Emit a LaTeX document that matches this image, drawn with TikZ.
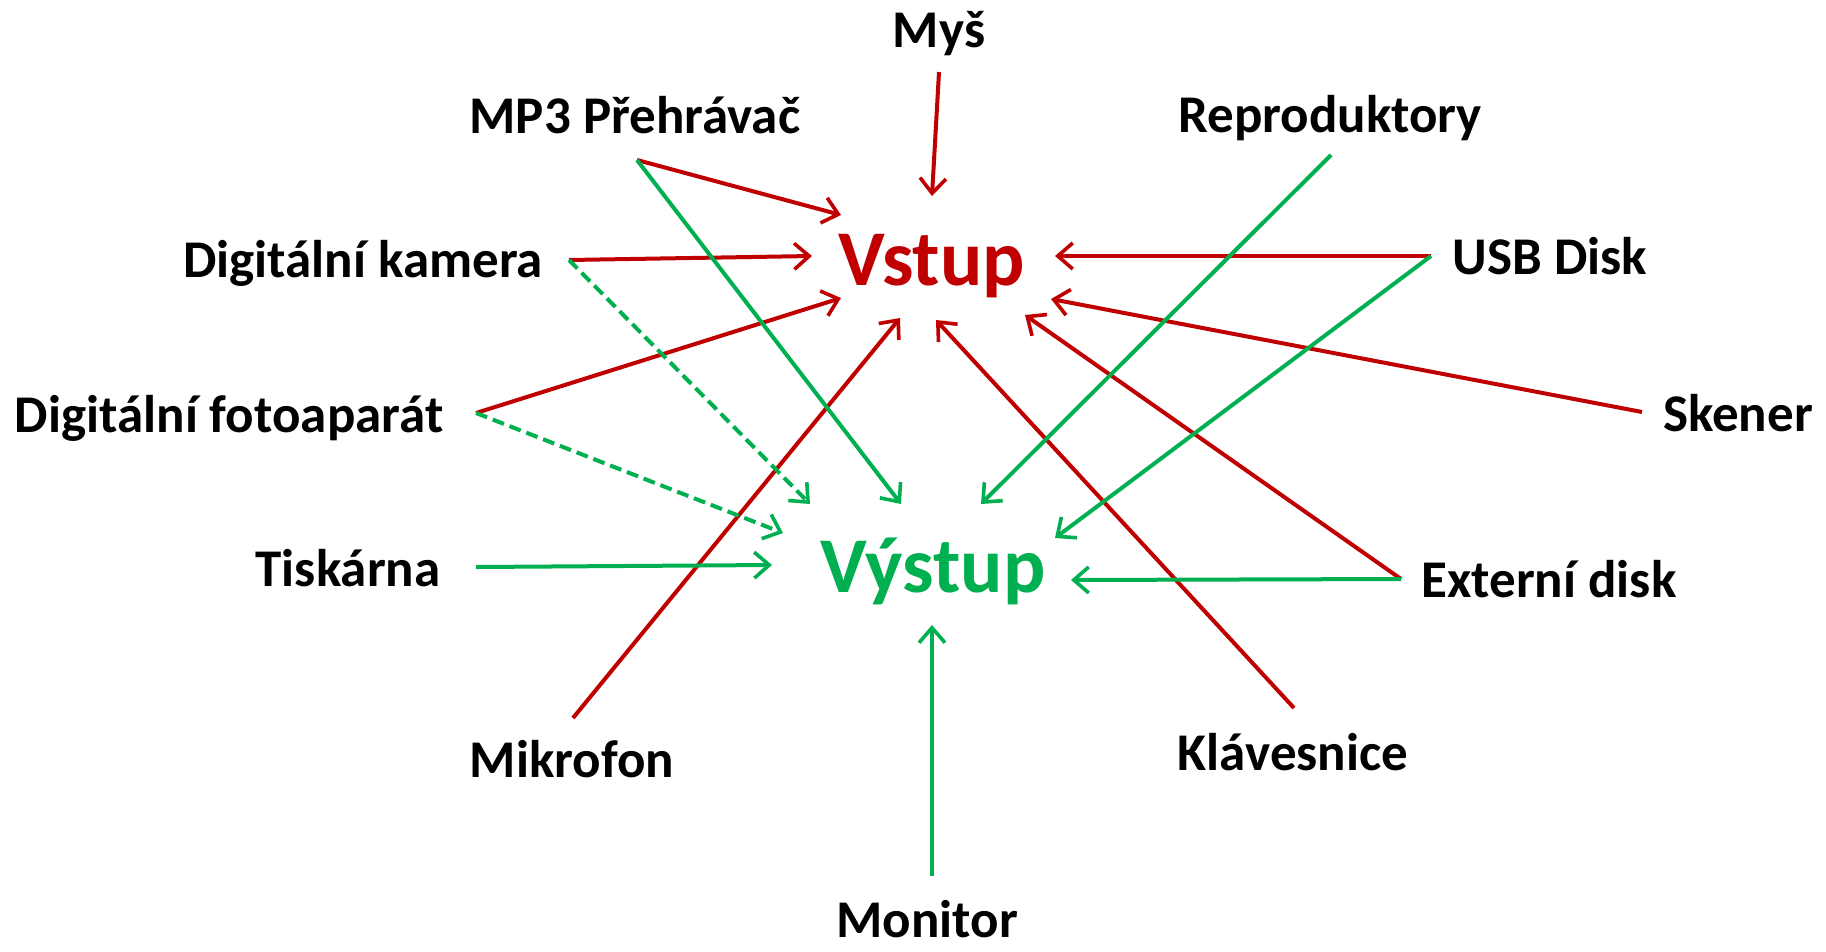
\documentclass[tikz,border=0pt]{standalone}
\usepackage{fontspec}
\setmainfont{Carlito}
\usetikzlibrary{arrows.meta}
\definecolor{cred}{HTML}{C00000}
\definecolor{cgreen}{HTML}{00B050}
\begin{document}
\begin{tikzpicture}[x=1pt,y=-1pt,
  lab/.style={font=\fontsize{53}{64}\selectfont\bfseries, anchor=base, inner sep=0pt},
  big/.style={font=\fontsize{79}{95}\selectfont\bfseries, anchor=base, inner sep=0pt},
  arr/.style={line width=4pt, -{Straight Barb[length=15pt,width=26pt,line width=3.6pt]}},
  ra/.style={arr, draw=cred},
  ga/.style={arr, draw=cgreen},
  gd/.style={arr, draw=cgreen, dash pattern=on 12pt off 6pt}]
\fill[white] (0,0) rectangle (1826,951);
\useasboundingbox (0,0) rectangle (1826,951);
% labels
\node[lab] (mys) at (939,47) {Myš};
\node[lab] (mp3) at (635,133) {MP3 Přehrávač};
\node[lab] (rep) at (1330,132) {Reproduktory};
\node[lab] (kam) at (363,277) {Digitální kamera};
\node[lab] (usb) at (1550,274) {USB Disk};
\node[lab] (foto) at (229,432) {Digitální fotoaparát};
\node[lab] (sken) at (1738,431) {Skener};
\node[lab] (tisk) at (348,586) {Tiskárna};
\node[lab] (ext) at (1549,597) {Externí disk};
\node[lab] (mik) at (572,777) {Mikrofon};
\node[lab] (klav) at (1293,770) {Klávesnice};
\node[lab] (mon) at (927,937) {Monitor};
\node[big, text=cred] (vstup) at (932,285) {Vstup};
\node[big, text=cgreen] (vystup) at (933,592) {Výstup};
% connector end points
\coordinate (mysS) at (939,72);   \coordinate (mysE) at (932,196);
\coordinate (mp3S) at (637,160);
\coordinate (kamS) at (569,260);
\coordinate (fotoS) at (476,413);
\coordinate (mikS) at (573,718);
\coordinate (klavS) at (1294,708);
\coordinate (extS) at (1401,579);
\coordinate (skenS) at (1642,412);
\coordinate (usbS) at (1431,256);
\coordinate (repS) at (1331,155);
\coordinate (tiskS) at (476,567);
\coordinate (monS) at (932,876);
\coordinate (v1) at (841,215);
\coordinate (v2) at (812,256);
\coordinate (v3) at (841,298);
\coordinate (v4) at (900,318);
\coordinate (v5) at (936,320);
\coordinate (v6) at (1025,315);
\coordinate (v7) at (1051,299);
\coordinate (v8) at (1055,256);
\coordinate (w1) at (901,504);
\coordinate (w2) at (981,504);
\coordinate (w3) at (1055,538);
\coordinate (w4) at (810,504);
\coordinate (w5) at (783,533);
\coordinate (w6) at (772,565);
\coordinate (w7) at (1071,580);
\coordinate (w8) at (932,625);
% red arrows (to Vstup)
\draw[ra] (mysS) -- (mysE);
\draw[ra] (mp3S) -- (v1);
\draw[ra] (kamS) -- (v2);
\draw[ra] (fotoS) -- (v3);
\draw[ra] (mikS) -- (v4);
\draw[ra] (klavS) -- (v5);
\draw[ra] (extS) -- (v6);
\draw[ra] (skenS) -- (v7);
\draw[ra] (usbS) -- (v8);
% green arrows (to Vystup)
\draw[ga] (mp3S) -- (w1);
\draw[ga] (repS) -- (w2);
\draw[ga] (usbS) -- (w3);
\draw[gd] (kamS) -- (w4);
\draw[gd] (fotoS) -- (w5);
\draw[ga] (tiskS) -- (w6);
\draw[ga] (extS) -- (w7);
\draw[ga] (monS) -- (w8);
\end{tikzpicture}
\end{document}
